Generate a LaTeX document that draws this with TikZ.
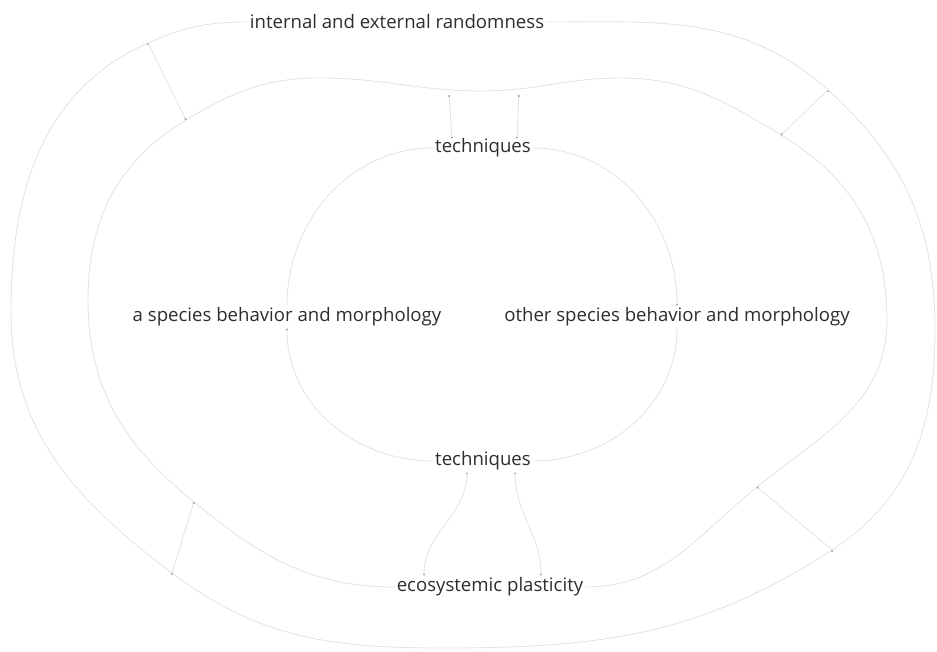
\documentclass[tikz,border=0pt]{standalone}
\usepackage{fontspec}
\setmainfont{Open Sans}
\usetikzlibrary{arrows.meta}
\definecolor{linegray}{RGB}{226,226,226}
\definecolor{textgray}{RGB}{45,45,45}
\begin{document}
\begin{tikzpicture}[x=1pt,y=1pt,
        lbl/.style={inner sep=2pt,text=textgray,font=\fontsize{18.6}{20}\selectfont},
        ring/.style={draw=linegray,line width=0.8pt},
        link/.style={draw=linegray,line width=0.8pt,-{Circle[length=2pt,color=gray!70]}}]
        \useasboundingbox (0,0) rectangle (937,652);

        \node[lbl] (rand)  at (397,630) {internal and external randomness};
        \node[lbl] (techT) at (483,504) {techniques};
        \node[lbl] (spA)   at (287,335) {a species behavior and morphology};
        \node[lbl] (spB)   at (677,335) {other species behavior and morphology};
        \node[lbl] (techB) at (483,191) {techniques};
        \node[lbl] (eco)   at (490,65)  {ecosystemic plasticity};

        % outer ring
        \coordinate (o1) at (148,609);
        \coordinate (o2) at (828,562);
        \coordinate (o3) at (172,79);
        \coordinate (o4) at (832,102);
        \coordinate (oL) at (11,340);
        \coordinate (oB) at (445,4);
        \coordinate (oR) at (935,322);
        % middle ring
        \coordinate (m1) at (186,532);
        \coordinate (m2) at (781,517);
        \coordinate (m3) at (194,150);
        \coordinate (m4) at (757,165);
        \coordinate (mL) at (88,352);
        \coordinate (mR) at (887,332);
        \coordinate (mP1) at (320,574);
        \coordinate (mV)  at (482,561);
        \coordinate (mP2) at (620,574);
        \coordinate (t1) at (449,557);
        \coordinate (t2) at (519,557);

        \path[ring] (rand.west) to[out=180,in=24] (o1) to[out=204,in=90] (oL)
            to[out=-90,in=143] (o3) to[out=-37,in=180] (oB) to[out=0,in=213] (o4)
            to[out=33,in=-90] (oR) to[out=90,in=-42] (o2) to[out=138,in=0] (rand.east);
        \path[ring] (eco.west) to[out=180,in=-39] (m3) to[out=141,in=-90] (mL)
            to[out=90,in=211] (m1) to[out=31,in=180] (mP1) to[out=0,in=180] (mV)
            to[out=0,in=180] (mP2) to[out=0,in=149] (m2) to[out=-31,in=90] (mR)
            to[out=-90,in=39] (m4) to[out=219,in=0] (eco.east);

        \path[ring] (spA.north) to[out=90,in=180] (techT.west);
        \path[link] (techT.east) to[out=0,in=90] (spB.north);
        \path[ring] (spB.south) to[out=-90,in=0] (techB.east);
        \path[link] (techB.west) to[out=180,in=-90] (spA.south);

        \path[link] (o1) edge (m1);
        \path[link] (o2) edge (m2);
        \path[link] (o3) edge (m3);
        \path[link] (o4) edge (m4);

        \path[link] ([xshift=-31pt]techT.north) edge[out=95,in=-85] (t1);
        \path[link] ([xshift=34pt]techT.north) edge[out=85,in=-95] (t2);
        \path[link] ([xshift=-16pt]techB.south) edge[out=-90,in=90] ([xshift=-66pt]eco.north);
        \path[link] ([xshift=32pt]techB.south) edge[out=-90,in=90] ([xshift=51pt]eco.north);
    \end{tikzpicture}
\end{document}
